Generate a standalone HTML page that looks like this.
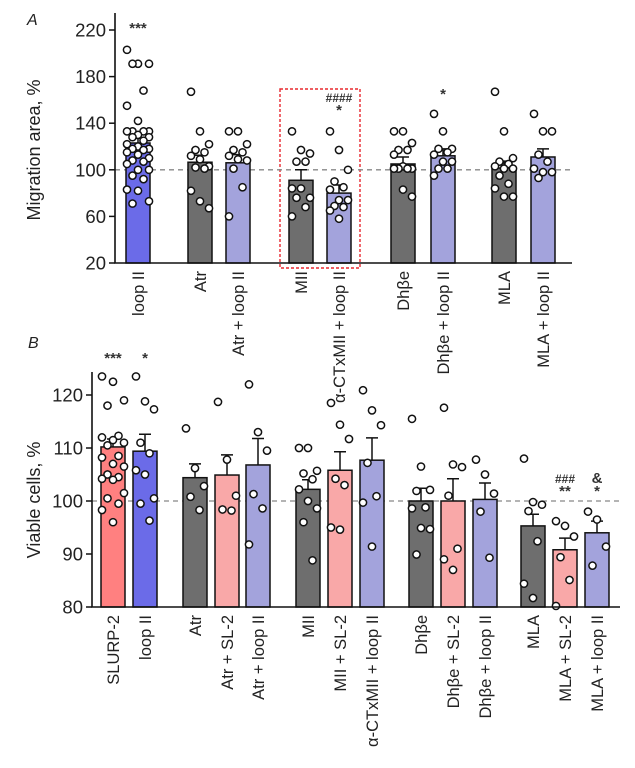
<!DOCTYPE html>
<html><head><meta charset="utf-8">
<style>
html,body{margin:0;padding:0;background:#fff;}
svg{display:block;font-family:"Liberation Sans",sans-serif;}
</style></head>
<body>
<svg id="fig" width="635" height="768" viewBox="0 0 635 768" xmlns="http://www.w3.org/2000/svg">
<g id="panelA"></g>
<g id="panelB"></g>
</svg>
<script>
// ---------- Panel A data ----------
const catsA = ["loop II","Atr","Atr + loop II","MII","\u03b1-CTxMII + loop II","Dh\u03b2e","Dh\u03b2e + loop II","MLA","MLA + loop II"];
const meansA = [123,106.5,106,91,80,105,112,101.5,111];
const errA = [4,6,7,9,7,6,6,6,7];
const pointsA = [
 [203,191,191,191,168,155,142,133,133,133,133,130,128,128,125,122,120,118,118,117,115,113,110,108,107,105,100,100,95,92,83,82,73,71],
 [167,133,122,117,115,112,109,103,102,101,82,73,67],
 [133,133,122,117,115,112,109,108,101,85,60],
 [133,117,114,107,107,84,84,76,76,68,60],
 [133,117,100,90,85,83,74,74,69,68,65,58],
 [133,133,123,117,117,113,103,101,101,101,101,83,77],
 [148,133,118,118,115,113,107,107,101,101,95],
 [167,133,110,107,105,103,101,101,95,88,84,77,77],
 [148,133,133,113,107,101,98,98,93]
];
const colorsA = ["#6b6be8","#6e6e6e","#a3a3dc","#6e6e6e","#a3a3dc","#6e6e6e","#a3a3dc","#6e6e6e","#a3a3dc"];
const ticksA = [20,60,100,140,180,220];
const annotA = [["***"],[],[],[],["####","*"],[],["*"],[],[]];

// ---------- Panel B data ----------
const catsB = ["SLURP-2","loop II","Atr","Atr + SL-2","Atr + loop II","MII","MII + SL-2","\u03b1-CTxMII + loop II","Dh\u03b2e","Dh\u03b2e + SL-2","Dh\u03b2e + loop II","MLA","MLA + SL-2","MLA + loop II"];
const meansB = [110.2,109.4,104.4,104.9,106.8,102.2,105.8,107.7,100,100,100.3,95.3,90.8,94];
const errB = [1.5,3.2,2.6,3.8,5.0,1.8,3.5,4.2,2.4,4.2,3.1,2.2,2.2,2.2];
const pointsB = [
 [123.5,122.5,119,118,112.3,112,111.5,111,110.5,108.5,108.2,107,106.5,105,104.5,104.2,104,101.5,100.5,99.5,98.3,96],
 [123.5,118.8,117.3,111,109,105.8,105,100.5,99.5,96.3],
 [113.7,106.2,102.8,100.8,98.3],
 [118.7,107.8,101,98.4,98.2],
 [122,113,109.5,101.3,98.6,91.8],
 [110,110,105.7,105.2,104.1,102.2,100,98.6,96,88.8],
 [118.5,114.4,111.7,104.2,103,95,94.6],
 [120.9,117.1,114.3,107.2,100.9,99.7,91.4],
 [115.5,106.5,102.1,101.9,98.8,98.6,94.9,94.7,89.9],
 [117.6,106.9,106.4,101,91,89,87],
 [107.8,105,101.4,98,89.3],
 [108,99.8,99.3,98.1,92.4,84.4,81.7],
 [96.2,95.3,93.3,89.4,85.1,80.2],
 [98,96.5,91.4,87.8]
];
const colorsB = ["#ff8080","#6b6be8","#6e6e6e","#f9a8a8","#a3a3dc","#6e6e6e","#f9a8a8","#a3a3dc","#6e6e6e","#f9a8a8","#a3a3dc","#6e6e6e","#f9a8a8","#a3a3dc"];
const ticksB = [80,90,100,110,120];
const annotB = [["***"],["*"],[],[],[],[],[],[],[],[],[],[],["###","**"],["&","*"]];

const NS="http://www.w3.org/2000/svg";
function mk(parent,tag,attrs){const e=document.createElementNS(NS,tag);for(const k in attrs)e.setAttribute(k,attrs[k]);parent.appendChild(e);return e;}

function drawPanel(g,cfg){
  const y=v=>cfg.y0+(v-cfg.vmin)*(cfg.y1-cfg.y0)/(cfg.vmax-cfg.vmin);
  const bw=24;
  const ref=mk(g,"line",{x1:cfg.axX,x2:cfg.axEnd,y1:y(100),y2:y(100),stroke:"#888","stroke-width":1.3,"stroke-dasharray":"5,4"});
  
  
  cfg.cats.forEach((c,i)=>{
    const cx=cfg.xs[i];
    const top=y(cfg.means[i]);
    const bar=mk(g,"rect",{x:cx-bw/2,y:top,width:bw,height:cfg.y0-top,fill:cfg.colors[i],stroke:"#111","stroke-width":1.5});
    
    
    const et=y(cfg.means[i]+cfg.err[i]);
    const eb=mk(g,"path",{d:`M${cx},${top}V${et}M${cx-6},${et}H${cx+6}`,stroke:"#111","stroke-width":1.5,fill:"none"});
    
    
    const pts=cfg.points[i];
    const step=pts.length>15?5.5:4.5;
    pts.forEach((v,j)=>{
      const off=((j*7)%5-2)*step;
      const p=mk(g,"circle",{cx:cx+off,cy:y(v),r:3.6,fill:"#fff",stroke:"#111","stroke-width":1.5});
      
      
    });
    const an=cfg.annot[i];
    an.forEach((s,k)=>{
      const yy=cfg.annotY - (an.length-1-k)*13 + (cfg.annotShift[i]||0);
      const t=mk(g,"text",{x:cx,y:yy,"text-anchor":"middle","font-size":s.includes("#")?12:15,"font-weight":"bold",fill:"#333"});
      t.textContent=s;
      
      
    });
    const lb=mk(g,"text",{transform:`translate(${cx+6},${cfg.y0+8}) rotate(-90)`,"text-anchor":"end","font-size":16.5,fill:"#222"});
    lb.textContent=c;
    
    
  });
  const ax=mk(g,"path",{d:`M${cfg.axX},${cfg.yTop}V${cfg.y0}H${cfg.axEnd}`,stroke:"#111","stroke-width":1.6,fill:"none"});
  
  
  cfg.ticks.forEach(t=>{
    mk(g,"line",{x1:cfg.axX-6,x2:cfg.axX,y1:y(t),y2:y(t),stroke:"#111","stroke-width":1.5});
    const tl=mk(g,"text",{x:cfg.axX-9,y:y(t)+6.5,"text-anchor":"end","font-size":18.5,fill:"#222"});
    tl.textContent=t;
    
    
  });
  const yt=mk(g,"text",{transform:`translate(${cfg.titleX},${cfg.titleY}) rotate(-90)`,"text-anchor":"middle","font-size":18,fill:"#222"});
  yt.textContent=cfg.title;
  
  
  const pl=mk(g,"text",{x:cfg.letterX,y:cfg.letterY,"font-size":16,"font-style":"italic",fill:"#222"});
  pl.textContent=cfg.letter;
  
  
}

const gA=document.getElementById('panelA');
const box=mk(gA,"rect",{x:280,y:89,width:80,height:179,fill:"none",stroke:"#e8282f","stroke-width":1.4,"stroke-dasharray":"3,2"});


drawPanel(gA,{cats:catsA,means:meansA,err:errA,points:pointsA,colors:colorsA,ticks:ticksA,annot:annotA,
  xs:[138,200,238,301,339,403,443,504,543],vmin:20,vmax:220,y0:263,y1:30,yTop:13,axX:115,axEnd:572,
  annotY:115,annotShift:[-82,0,0,0,0,0,-16,0,0],title:"Migration area, %",titleX:40,titleY:150,letter:"A",letterX:27,letterY:25});
const gB=document.getElementById('panelB');
drawPanel(gB,{cats:catsB,means:meansB,err:errB,points:pointsB,colors:colorsB,ticks:ticksB,annot:annotB,
  xs:[113,145,195,227,258,308,340,372,421,453,485,533,565,597],vmin:80,vmax:120,y0:607,y1:395,yTop:372,axX:92,axEnd:620,
  annotY:496,annotShift:[-133,-133,0,0,0,0,0,0,0,0,0,0,0,0],title:"Viable cells, %",titleX:40,titleY:500,letter:"B",letterX:28,letterY:348});
</script>
</body></html>
